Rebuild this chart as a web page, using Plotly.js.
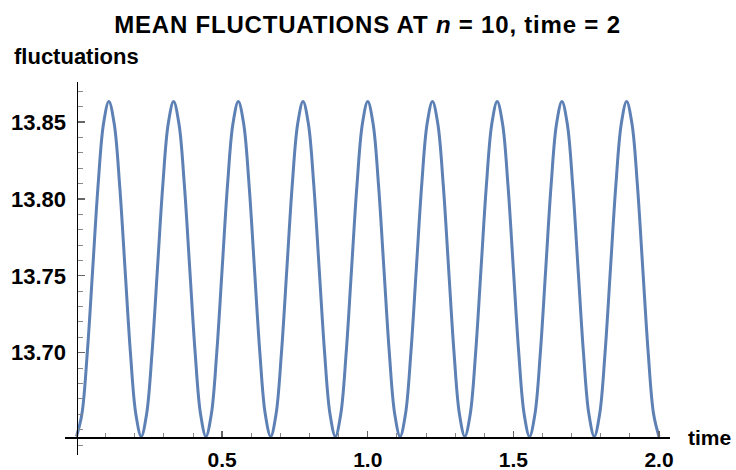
<!DOCTYPE html>
<html>
<head>
<meta charset="utf-8">
<script src="https://cdn.plot.ly/plotly-3.0.1.min.js"></script>
<style>
html,body{margin:0;padding:0;background:#fff;}
.gtitle{letter-spacing:0.8px;}
</style>
</head>
<body>
<div id="chart" style="width:736px;height:470px;"></div>
<script>
// time samples (every 1/54 time unit)
var time = [
  0, 0.0185, 0.0370, 0.0556, 0.0741, 0.0926, 0.1111, 0.1296, 0.1481, 0.1667, 0.1852, 0.2037,
  0.2222, 0.2407, 0.2593, 0.2778, 0.2963, 0.3148, 0.3333, 0.3519, 0.3704, 0.3889, 0.4074, 0.4259,
  0.4444, 0.4630, 0.4815, 0.5000, 0.5185, 0.5370, 0.5556, 0.5741, 0.5926, 0.6111, 0.6296, 0.6481,
  0.6667, 0.6852, 0.7037, 0.7222, 0.7407, 0.7593, 0.7778, 0.7963, 0.8148, 0.8333, 0.8519, 0.8704,
  0.8889, 0.9074, 0.9259, 0.9444, 0.9630, 0.9815, 1.0000, 1.0185, 1.0370, 1.0556, 1.0741, 1.0926,
  1.1111, 1.1296, 1.1481, 1.1667, 1.1852, 1.2037, 1.2222, 1.2407, 1.2593, 1.2778, 1.2963, 1.3148,
  1.3333, 1.3519, 1.3704, 1.3889, 1.4074, 1.4259, 1.4444, 1.4630, 1.4815, 1.5000, 1.5185, 1.5370,
  1.5556, 1.5741, 1.5926, 1.6111, 1.6296, 1.6481, 1.6667, 1.6852, 1.7037, 1.7222, 1.7407, 1.7593,
  1.7778, 1.7963, 1.8148, 1.8333, 1.8519, 1.8704, 1.8889, 1.9074, 1.9259, 1.9444, 1.9630, 1.9815,
  2.0000
];
// mean fluctuations read at those times
var fluctuations = [
  13.6455, 13.6601, 13.6999, 13.7544, 13.8089, 13.8487, 13.8633, 13.8487, 13.8089, 13.7544, 13.6999, 13.6601,
  13.6455, 13.6601, 13.6999, 13.7544, 13.8089, 13.8487, 13.8633, 13.8487, 13.8089, 13.7544, 13.6999, 13.6601,
  13.6455, 13.6601, 13.6999, 13.7544, 13.8089, 13.8487, 13.8633, 13.8487, 13.8089, 13.7544, 13.6999, 13.6601,
  13.6455, 13.6601, 13.6999, 13.7544, 13.8089, 13.8487, 13.8633, 13.8487, 13.8089, 13.7544, 13.6999, 13.6601,
  13.6455, 13.6601, 13.6999, 13.7544, 13.8089, 13.8487, 13.8633, 13.8487, 13.8089, 13.7544, 13.6999, 13.6601,
  13.6455, 13.6601, 13.6999, 13.7544, 13.8089, 13.8487, 13.8633, 13.8487, 13.8089, 13.7544, 13.6999, 13.6601,
  13.6455, 13.6601, 13.6999, 13.7544, 13.8089, 13.8487, 13.8633, 13.8487, 13.8089, 13.7544, 13.6999, 13.6601,
  13.6455, 13.6601, 13.6999, 13.7544, 13.8089, 13.8487, 13.8633, 13.8487, 13.8089, 13.7544, 13.6999, 13.6601,
  13.6455, 13.6601, 13.6999, 13.7544, 13.8089, 13.8487, 13.8633, 13.8487, 13.8089, 13.7544, 13.6999, 13.6601,
  13.6455
];
var xTickVals = [0.5, 1.0, 1.5, 2.0];
var xTickText = ["0.5", "1.0", "1.5", "2.0"];
var yTickVals = [13.70, 13.75, 13.80, 13.85];
var yTickText = ["13.70", "13.75", "13.80", "13.85"];

var FONT = "Liberation Sans, Arial, Helvetica, sans-serif";

var trace = {
  x: time,
  y: fluctuations,
  type: "scatter",
  mode: "lines",
  line: {color: "#5E81B5", width: 3, shape: "spline", smoothing: 1.0},
  hoverinfo: "skip"
};

var layout = {
  width: 736,
  height: 470,
  margin: {l: 65, r: 66, t: 82, b: 15, pad: 0},
  paper_bgcolor: "#ffffff",
  plot_bgcolor: "#ffffff",
  showlegend: false,
  title: {
    text: "MEAN FLUCTUATIONS AT <i>n</i> = 10, time = 2",
    font: {family: FONT, size: 24, color: "#000", weight: "bold"},
    x: 0.5, xref: "paper", xanchor: "center",
    y: 1 - 25 / 470, yref: "container", yanchor: "middle"
  },
  xaxis: {
    range: [-0.0395, 2.0378],
    anchor: "free",
    position: 18 / 373,
    showgrid: false,
    zeroline: false,
    showline: true,
    linecolor: "#000",
    linewidth: 1.6,
    ticks: "inside",
    ticklen: 6,
    tickwidth: 1.3,
    tickcolor: "#666",
    tickmode: "array",
    tickvals: xTickVals,
    ticktext: xTickText,
    ticklabelstandoff: 3,
    tickfont: {family: FONT, size: 21, color: "#000", weight: "bold"},
    minor: {ticks: "inside", ticklen: 4, tickwidth: 1, tickcolor: "#888", dtick: 0.1, tick0: 0, showgrid: false}
  },
  yaxis: {
    range: [13.6335, 13.876],
    anchor: "free",
    position: 11.5 / 605,
    showgrid: false,
    zeroline: false,
    showline: true,
    linecolor: "#000",
    linewidth: 1.6,
    ticks: "inside",
    ticklen: 7,
    tickwidth: 1.3,
    tickcolor: "#666",
    tickmode: "array",
    tickvals: yTickVals,
    ticktext: yTickText,
    ticklabelstandoff: 6,
    tickfont: {family: FONT, size: 22, color: "#000", weight: "bold"},
    minor: {ticks: "inside", ticklen: 4.5, tickwidth: 1, tickcolor: "#888", dtick: 0.01, tick0: 13.60, showgrid: false}
  },
  annotations: [
    {text: "fluctuations", xref: "paper", yref: "paper", x: -53 / 605, y: (455 - 57) / 373,
     xanchor: "left", yanchor: "middle", showarrow: false,
     font: {family: FONT, size: 22, color: "#000", weight: "bold"}},
    {text: "time", xref: "paper", yref: "paper", x: (686 - 65) / 605, y: (455 - 437) / 373,
     xanchor: "left", yanchor: "middle", showarrow: false,
     font: {family: FONT, size: 21, color: "#000", weight: "bold"}}
  ]
};

Plotly.newPlot("chart", [trace], layout, {staticPlot: true, displayModeBar: false});
</script>
</body>
</html>
